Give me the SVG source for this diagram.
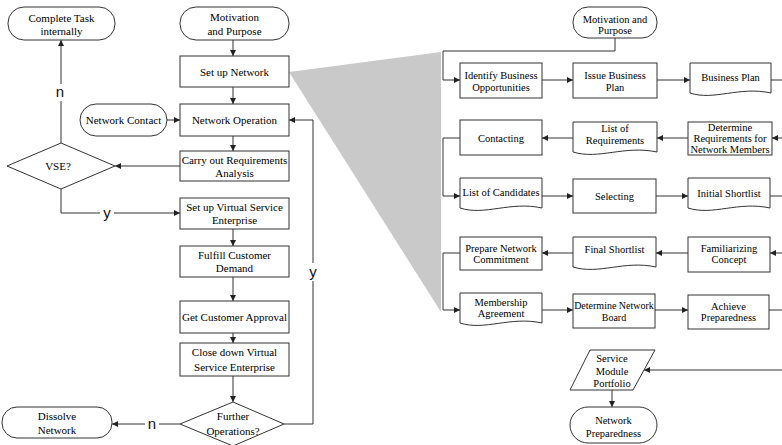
<svg xmlns="http://www.w3.org/2000/svg" width="782" height="445" viewBox="0 0 782 445">
<style>
.b{fill:#fff;stroke:#333;stroke-width:1}
.t{font-family:"Liberation Serif","Times New Roman",serif;font-size:11px;fill:#000;text-anchor:middle}
.r{font-size:10.5px}
.s{font-size:10px}
.c{fill:none;stroke:#333;stroke-width:1}
.a{fill:none;stroke:#333;stroke-width:1;marker-end:url(#ah)}
.l{font-family:"Liberation Sans",Arial,sans-serif;font-size:15px;fill:#111;text-anchor:middle}
</style>
<defs>
<marker id="ah" viewBox="0 0 8 8" refX="8" refY="4" markerWidth="6" markerHeight="6" orient="auto" markerUnits="userSpaceOnUse">
<path d="M0,0 L8,4 L0,8 Z" fill="#222"/>
</marker>
</defs>
<rect width="782" height="445" fill="#fff"/>
<polygon points="289,72 441,52 441,312" fill="#c9c9c9"/>

<g id="connectors">
<line class="a" x1="233" y1="40" x2="233" y2="56"/>
<line class="a" x1="233" y1="87" x2="233" y2="104"/>
<line class="a" x1="167" y1="120" x2="180" y2="120"/>
<line class="a" x1="233" y1="136" x2="233" y2="151"/>
<line class="a" x1="180" y1="166" x2="115" y2="166"/>
<line class="c" x1="61" y1="143" x2="61" y2="101"/>
<line class="a" x1="61" y1="84" x2="61" y2="40"/>
<polyline class="c" points="61,189 61,213 100,213"/>
<line class="a" x1="114" y1="213" x2="180" y2="213"/>
<line class="a" x1="233" y1="229" x2="233" y2="246"/>
<line class="a" x1="233" y1="277" x2="233" y2="301"/>
<line class="a" x1="233" y1="333" x2="233" y2="343"/>
<line class="a" x1="233" y1="376" x2="233" y2="402"/>
<polyline class="c" points="284,424 313,424 313,281"/>
<polyline class="a" points="313,263 313,120 289,120"/>
<line class="c" x1="180" y1="424" x2="159" y2="424"/>
<line class="a" x1="145" y1="424" x2="112" y2="424"/>

<polyline class="a" points="615,38 615,51 443,51 443,80 460,80"/>
<line class="a" x1="542" y1="80" x2="573" y2="80"/>
<line class="a" x1="657" y1="80" x2="690" y2="80"/>
<line class="c" x1="771" y1="80" x2="782" y2="80"/>
<line class="a" x1="782" y1="138" x2="772" y2="138"/>
<line class="a" x1="688" y1="138" x2="657" y2="138"/>
<line class="a" x1="573" y1="138" x2="542" y2="138"/>
<polyline class="a" points="460,138 443,138 443,196 460,196"/>
<line class="a" x1="542" y1="196" x2="573" y2="196"/>
<line class="a" x1="656" y1="196" x2="688" y2="196"/>
<line class="c" x1="770" y1="196" x2="782" y2="196"/>
<line class="a" x1="782" y1="253" x2="770" y2="253"/>
<line class="a" x1="688" y1="253" x2="656" y2="253"/>
<line class="a" x1="573" y1="253" x2="542" y2="253"/>
<polyline class="a" points="460,253 443,253 443,310 460,310"/>
<line class="a" x1="542" y1="310" x2="573" y2="310"/>
<line class="a" x1="655" y1="310" x2="688" y2="310"/>
<line class="c" x1="769" y1="310" x2="782" y2="310"/>
<line class="a" x1="782" y1="370" x2="644" y2="370"/>
<line class="a" x1="612" y1="390" x2="612" y2="407"/>
<text class="l" x="60" y="97">n</text>
<text class="l" x="107" y="218">y</text>
<text class="l" x="313" y="277">y</text>
<text class="l" x="152" y="429">n</text>
</g>

<g id="complete-task"><rect class="b" x="8" y="7" width="107" height="33" rx="16"/><text class="t" x="61.5" y="22">Complete Task</text><text class="t" x="61.5" y="35">internally</text></g>
<g id="motivation-left"><rect class="b" x="180" y="7" width="109" height="33" rx="16"/><text class="t" x="234.5" y="21">Motivation</text><text class="t" x="234.5" y="35">and Purpose</text></g>
<g id="setup-network"><rect class="b" x="180" y="56" width="109" height="31"/><text class="t" x="234.5" y="76">Set up Network</text></g>
<g id="network-operation"><rect class="b" x="180" y="104" width="109" height="32"/><text class="t" x="234.5" y="124">Network Operation</text></g>
<g id="network-contact"><rect class="b" x="80" y="104" width="87" height="32" rx="16"/><text class="t" x="123.5" y="124">Network Contact</text></g>
<g id="requirements-analysis"><rect class="b" x="180" y="151" width="109" height="30"/><text class="t" x="234.5" y="164">Carry out Requirements</text><text class="t" x="234.5" y="177">Analysis</text></g>
<g id="vse"><polygon class="b" points="7,166 61,143 115,166 61,189"/><text class="t" x="58" y="170">VSE?</text></g>
<g id="setup-vse"><rect class="b" x="180" y="198" width="109" height="31"/><text class="t" x="234.5" y="211">Set up Virtual Service</text><text class="t" x="234.5" y="224">Enterprise</text></g>
<g id="fulfill"><rect class="b" x="180" y="246" width="109" height="31"/><text class="t" x="234.5" y="259">Fulfill Customer</text><text class="t" x="234.5" y="272">Demand</text></g>
<g id="approval"><rect class="b" x="180" y="301" width="109" height="32"/><text class="t" x="234.5" y="321">Get Customer Approval</text></g>
<g id="close-vse"><rect class="b" x="180" y="343" width="109" height="33"/><text class="t" x="234.5" y="356">Close down Virtual</text><text class="t" x="234.5" y="371">Service Enterprise</text></g>
<g id="further"><polygon class="b" points="180,424 233,402 284,424 233,446"/><text class="t" x="233" y="420">Further</text><text class="t" x="233" y="435">Operations?</text></g>
<g id="dissolve"><rect class="b" x="2" y="407" width="110" height="31" rx="15"/><text class="t" x="57" y="420">Dissolve</text><text class="t" x="57" y="434">Network</text></g>

<g id="motivation-right"><rect class="b" x="573" y="7" width="84" height="31" rx="15"/><text class="t r" x="615" y="22.5">Motivation and</text><text class="t r" x="615" y="34">Purpose</text></g>
<g id="identify"><rect class="b" x="460" y="63" width="82" height="35"/><text class="t r" x="501" y="78.5">Identify Business</text><text class="t r" x="501" y="90.5">Opportunities</text></g>
<g id="issue"><rect class="b" x="573" y="63" width="84" height="35"/><text class="t r" x="615" y="78.5">Issue Business</text><text class="t r" x="615" y="90.5">Plan</text></g>
<g id="business-plan"><path class="b" d="M690,63 H771 V93 C739,86 714,101 690,93 Z"/><text class="t r" x="730.5" y="80.5">Business Plan</text></g>
<g id="determine-req"><rect class="b" x="688" y="122" width="84" height="33"/><text class="t r" x="730" y="130.5">Determine</text><text class="t r" x="730" y="142">Requirements for</text><text class="t r" x="730" y="153">Network Members</text></g>
<g id="list-req"><path class="b" d="M573,122 H657 V152 C624,145 599,160 573,152 Z"/><text class="t r" x="615" y="131.5">List of</text><text class="t r" x="615" y="143.5">Requirements</text></g>
<g id="contacting"><rect class="b" x="460" y="120" width="82" height="35"/><text class="t r" x="501" y="141.5">Contacting</text></g>
<g id="list-candidates"><path class="b" d="M460,178 H542 V208 C510,201 485,216 460,208 Z"/><text class="t r" x="501" y="196">List of Candidates</text></g>
<g id="selecting"><rect class="b" x="573" y="179" width="83" height="34"/><text class="t r" x="614.5" y="200">Selecting</text></g>
<g id="initial-shortlist"><path class="b" d="M688,178 H770 V208 C738,201 713,216 688,208 Z"/><text class="t r" x="729" y="197">Initial Shortlist</text></g>
<g id="familiarizing"><rect class="b" x="688" y="237" width="82" height="35"/><text class="t r" x="729" y="251.5">Familiarizing</text><text class="t r" x="729" y="263">Concept</text></g>
<g id="final-shortlist"><path class="b" d="M573,237 H656 V267 C624,260 599,275 573,267 Z"/><text class="t r" x="614.5" y="253">Final Shortlist</text></g>
<g id="prepare"><rect class="b" x="460" y="237" width="82" height="33"/><text class="t r" x="501" y="251.5">Prepare Network</text><text class="t r" x="501" y="263">Commitment</text></g>
<g id="membership"><path class="b" d="M460,293 H542 V323 C510,316 485,331 460,323 Z"/><text class="t r" x="501" y="305.5">Membership</text><text class="t r" x="501" y="317">Agreement</text></g>
<g id="network-board"><rect class="b" x="573" y="294" width="82" height="34"/><text class="t s" x="614" y="308.5">Determine Network</text><text class="t s" x="614" y="320.5">Board</text></g>
<g id="achieve"><rect class="b" x="688" y="295" width="81" height="34"/><text class="t r" x="728.5" y="309.5">Achieve</text><text class="t r" x="728.5" y="321">Preparedness</text></g>
<g id="portfolio"><polygon class="b" points="590,350 655,350 633,390 570,390"/><text class="t r" x="612" y="361.5">Service</text><text class="t r" x="612" y="374.5">Module</text><text class="t r" x="612" y="387">Portfolio</text></g>
<g id="network-preparedness"><rect class="b" x="570" y="407" width="87" height="36" rx="18"/><text class="t r" x="613.5" y="424">Network</text><text class="t r" x="613.5" y="437">Preparedness</text></g>
</svg>
